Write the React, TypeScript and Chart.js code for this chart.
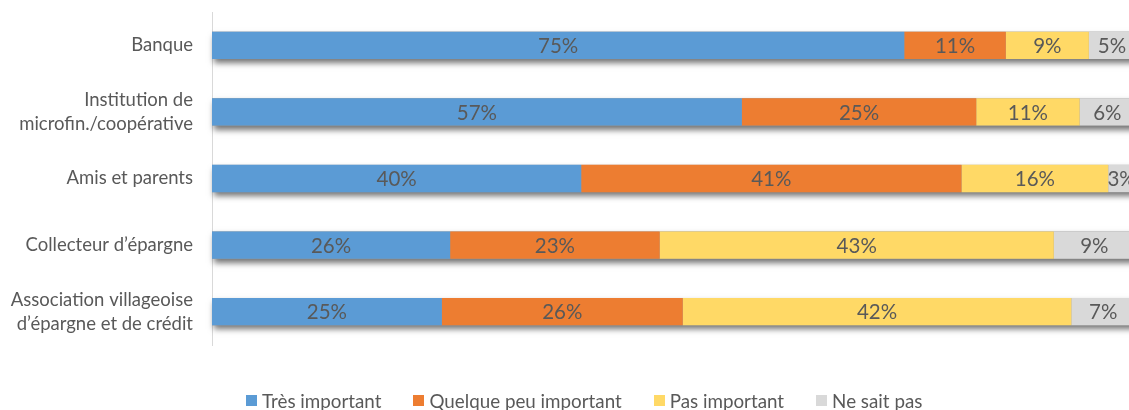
import React, { useEffect, useRef } from "react";
import { Chart, registerables } from "chart.js";

Chart.register(...registerables);

const categories: string[][] = [
  ["Banque"],
  ["Institution de", "microfin./coopérative"],
  ["Amis et parents"],
  ["Collecteur d’épargne"],
  ["Association villageoise", "d’épargne et de crédit"],
];
const seriesNames = ["Très important", "Quelque peu important", "Pas important", "Ne sait pas"];
const tresImportant = [75, 57.4, 40, 25.8, 24.9];
const quelquePeu = [11, 25.4, 41.2, 22.7, 26.1];
const pasImportant = [9, 11.2, 15.9, 42.7, 42.1];
const neSaitPas = [5, 6, 2.9, 8.8, 6.9];
const seriesColors = ["#5B9BD5", "#ED7D31", "#FFD966", "#D9D9D9"];

const shadowPlugin = {
  id: "barShadow",
  beforeDatasetsDraw(chart: any) {
    const ctx = chart.ctx;
    const n = chart.data.datasets.length;
    const first = chart.getDatasetMeta(0);
    const last = chart.getDatasetMeta(n - 1);
    ctx.save();
    ctx.shadowColor = "rgba(0,0,0,0.55)";
    ctx.shadowBlur = 6;
    ctx.shadowOffsetX = 2;
    ctx.shadowOffsetY = 4;
    ctx.fillStyle = "#999";
    first.data.forEach((el: any, i: number) => {
      const p = el.getProps(["x", "y", "base", "height"], true);
      const l = last.data[i].getProps(["x"], true);
      ctx.fillRect(p.base, p.y - p.height / 2, l.x - p.base, p.height);
    });
    ctx.restore();
  },
};

const labelPlugin = {
  id: "segLabels",
  afterDatasetsDraw(chart: any) {
    const ctx = chart.ctx;
    ctx.save();
    ctx.font = "20.5px Lato";
    ctx.fillStyle = "#595959";
    ctx.textAlign = "center";
    ctx.textBaseline = "middle";
    chart.data.datasets.forEach((ds: any, di: number) => {
      const meta = chart.getDatasetMeta(di);
      meta.data.forEach((el: any, i: number) => {
        const p = el.getProps(["x", "y", "base"], true);
        const cx = (p.x + p.base) / 2;
        ctx.fillText(Math.round(ds.data[i]) + "%", cx, p.y + 1);
      });
    });
    ctx.restore();
  },
};

export default function App() {
  const ref = useRef<HTMLCanvasElement>(null);
  useEffect(() => {
    if (!ref.current) return;
    const data = [tresImportant, quelquePeu, pasImportant, neSaitPas];
    const chart = new Chart(ref.current, {
      type: "bar",
      data: {
        labels: categories,
        datasets: seriesNames.map((name, i) => ({
          label: name,
          data: data[i],
          backgroundColor: seriesColors[i],
          borderWidth: 0,
          barPercentage: 0.41,
          categoryPercentage: 1,
        })),
      },
      options: {
        indexAxis: "y",
        responsive: false,
        animation: false,
        devicePixelRatio: 1,
        layout: { padding: { top: 12, bottom: 65, right: 5, left: 0 } },
        plugins: { legend: { display: false }, tooltip: { enabled: false } },
        scales: {
          x: { display: false, stacked: true, min: 0, max: 100 },
          y: {
            stacked: true,
            grid: { display: false, drawTicks: false },
            border: { display: true, color: "#D9D9D9", width: 1 },
            ticks: {
              color: "#595959",
              font: { family: "Lato", size: 18.5, lineHeight: 1.3 },
              padding: 19,
            },
            afterFit: (s: any) => {
              s.width = 212;
              s.paddingTop = 0;
              s.paddingBottom = 0;
            },
          },
        },
      },
      plugins: [shadowPlugin, labelPlugin],
    });
    return () => chart.destroy();
  }, []);

  return (
    <div
      style={{
        position: "fixed",
        left: 0,
        top: 0,
        width: 1129,
        height: 410,
        overflow: "hidden",
        background: "#fff",
      }}
    >
      <canvas ref={ref} width={1140} height={410} style={{ width: 1140, height: 410, display: "block" }} />
      <div
        style={{
          position: "absolute",
          left: 246,
          top: 389,
          height: 23,
          display: "flex",
          alignItems: "center",
          gap: 32,
          fontFamily: "Lato",
          fontSize: 18.8,
          color: "#595959",
          whiteSpace: "nowrap",
          lineHeight: "23px",
        }}
      >
        {seriesNames.map((name, i) => (
          <div key={name} style={{ display: "flex", alignItems: "center" }}>
            <span style={{ width: 11, height: 11, background: seriesColors[i], marginRight: 5, display: "inline-block" }} />
            <span>{name}</span>
          </div>
        ))}
      </div>
    </div>
  );
}
